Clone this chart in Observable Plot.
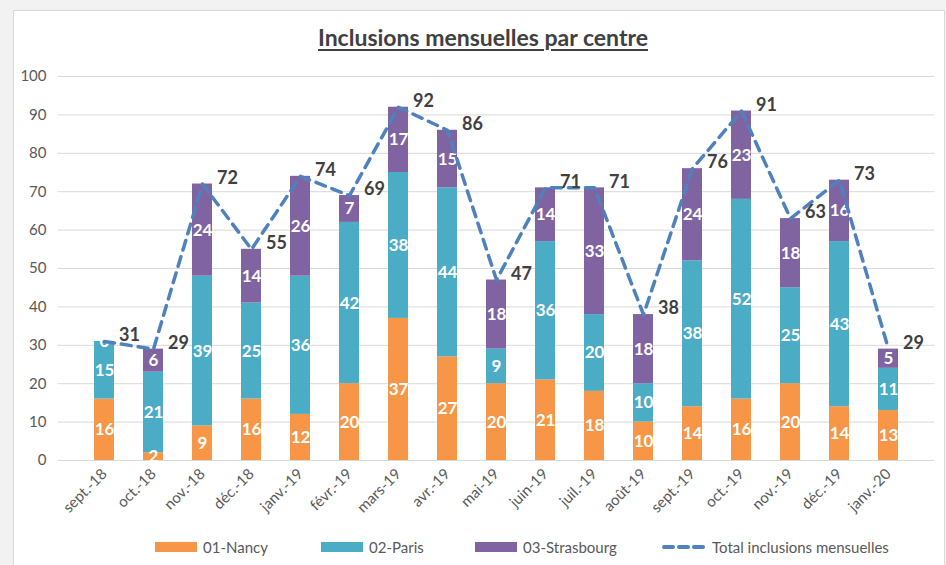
<!DOCTYPE html>
<html>
<head>
<meta charset="utf-8">
<script src="https://cdn.jsdelivr.net/npm/d3@7"></script>
<script src="https://cdn.jsdelivr.net/npm/@observablehq/plot@0.6"></script>
<style>
  html, body { margin: 0; padding: 0; background: #fff; font-family: Lato, "Open Sans", sans-serif; }
  #page { position: relative; width: 946px; height: 565px; overflow: hidden; background: #f2f2f2; }
  #frame { position: absolute; left: 13px; top: 10px; width: 930px; height: 570px; background: #fff; border: 1px solid #d9d9d9; }
  #title { position: absolute; left: 0; width: 966px; top: 23px; text-align: center; font-size: 23px; font-weight: bold; color: #404040; text-decoration: underline; text-underline-offset: 3px; }
  #chart { position: absolute; left: 0; top: 60px; }
  #legend { position: absolute; top: 538px; left: 0; width: 946px; font-size: 15px; color: #595959; }
  .item { position: absolute; display: flex; align-items: center; gap: 6px; white-space: nowrap; }
</style>
</head>
<body>
<div id="page">
  <div id="frame"></div>
  <div id="title">Inclusions mensuelles par centre</div>
  <div id="chart"></div>
  <div id="legend"></div>
</div>
<script>
const months = ["sept.-18","oct.-18","nov.-18","déc.-18","janv.-19","févr.-19","mars-19","avr.-19","mai-19","juin-19","juil.-19","août-19","sept.-19","oct.-19","nov.-19","déc.-19","janv.-20"];
const nancy      = [16, 2, 9, 16, 12, 20, 37, 27, 20, 21, 18, 10, 14, 16, 20, 14, 13];
const paris      = [15, 21, 39, 25, 36, 42, 38, 44, 9, 36, 20, 10, 38, 52, 25, 43, 11];
const strasbourg = [0, 6, 24, 14, 26, 7, 17, 15, 18, 14, 33, 18, 24, 23, 18, 16, 5];
const totals     = [31, 29, 72, 55, 74, 69, 92, 86, 47, 71, 71, 38, 76, 91, 63, 73, 29];
const seriesNames = ["01-Nancy", "02-Paris", "03-Strasbourg"];
const lineName = "Total inclusions mensuelles";
const yTicks = [0, 10, 20, 30, 40, 50, 60, 70, 80, 90, 100];

const colors = ["#F79646", "#4BACC6", "#8064A2"];
const lineColor = "#4F81BD";

const seriesValues = [nancy, paris, strasbourg];
const rows = [];
seriesNames.forEach((s, si) => {
  months.forEach((m, i) => rows.push({month: m, series: s, value: seriesValues[si][i]}));
});
const totalRows = months.map((m, i) => ({month: m, total: totals[i]}));

const chart = Plot.plot({
  width: 946,
  height: 470,
  marginTop: 16,
  marginBottom: 70,
  marginLeft: 58,
  marginRight: 12,
  style: {fontFamily: "Lato, 'Open Sans', sans-serif", background: "transparent"},
  x: {domain: months, padding: 0.6, label: null},
  y: {domain: [0, 100], label: null},
  color: {domain: seriesNames, range: colors},
  marks: [
    Plot.gridY(yTicks, {stroke: "#d9d9d9", strokeOpacity: 1, strokeWidth: 1}),
    Plot.barY(rows, {x: "month", y: "value", fill: "series", order: seriesNames, stroke: "none"}),
    Plot.text(rows, Plot.stackY({x: "month", y: "value", z: "series", order: seriesNames, text: "value", fill: "white", fontWeight: "bold", fontSize: 17})),
    Plot.line(totalRows, {x: "month", y: "total", stroke: lineColor, strokeWidth: 3.5, strokeDasharray: "10,7", strokeLinecap: "round"}),
    Plot.text(totalRows, {x: "month", y: "total", text: "total", dx: 25, dy: -6, fill: "#404040", fontWeight: "bold", fontSize: 18}),
    Plot.axisX({tickSize: 0, tickRotate: -45, tickPadding: 11, fontSize: 15, fill: "#595959", label: null}),
    Plot.axisY(yTicks, {tickSize: 0, tickPadding: 12, fontSize: 15, fill: "#595959", label: null})
  ]
});
document.getElementById("chart").appendChild(chart);

const legend = document.getElementById("legend");
const legendX = [155, 321, 475, 662];
seriesNames.forEach((s, i) => {
  const d = document.createElement("div");
  d.className = "item";
  d.style.left = legendX[i] + "px";
  d.innerHTML = `<svg width="42" height="10"><rect width="42" height="10" fill="${colors[i]}"/></svg><span>${s}</span>`;
  legend.appendChild(d);
});
const dl = document.createElement("div");
dl.className = "item";
dl.style.left = legendX[3] + "px";
dl.innerHTML = `<svg width="44" height="10"><line x1="2" x2="42" y1="5" y2="5" stroke="${lineColor}" stroke-width="4" stroke-dasharray="9,6" stroke-linecap="round"/></svg><span>${lineName}</span>`;
legend.appendChild(dl);
</script>
</body>
</html>
